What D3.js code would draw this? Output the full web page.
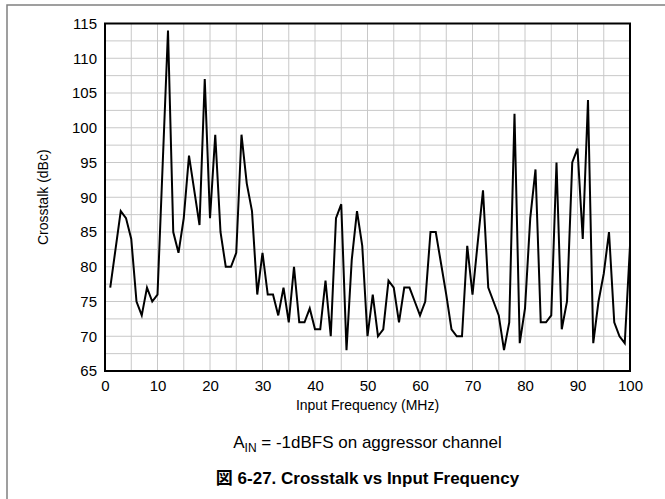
<!DOCTYPE html>
<html>
<head>
<meta charset="utf-8">
<script src="https://cdn.jsdelivr.net/npm/d3@7"></script>
<style>
  body { margin: 0; background: #fff; }
  svg { display: block; font-family: "Liberation Sans", Arial, sans-serif; }
</style>
</head>
<body>
<svg width="665" height="499"></svg>
<script>
// frequency (MHz) and crosstalk (dBc)
let freqs = d3.range(1, 101);
let crosstalk = [
  77, 82.5, 88, 87, 84, 75, 73, 77, 75, 76,
  95, 114, 85, 82, 87, 96, 91, 86, 107, 87,
  99, 85, 80, 80, 82, 99, 92, 88, 76, 82,
  76, 76, 73, 77, 72, 80, 72, 72, 74, 71,
  71, 78, 70, 87, 89, 68, 81, 88, 83, 70,
  76, 70, 71, 78, 77, 72, 77, 77, 75, 73,
  75, 85, 85, 80.5, 76, 71, 70, 70, 83, 76,
  83.5, 91, 77, 75, 73, 68, 72, 102, 69, 74,
  87, 94, 72, 72, 73, 95, 71, 75, 95, 97,
  84, 104, 69, 75, 79, 85, 72, 70, 69, 83
];
let xTicks = [0, 10, 20, 30, 40, 50, 60, 70, 80, 90, 100];
let yTicks = [65, 70, 75, 80, 85, 90, 95, 100, 105, 110, 115];

let svg = d3.select("svg");
let pLeft = 105, pRight = 630, pTop = 23.5, pBottom = 371;

let x = d3.scaleLinear().domain([0, 100]).range([pLeft, pRight]);
let y = d3.scaleLinear().domain([65, 115]).range([pBottom, pTop]);

// outer page frame (top and left edges)
svg.append("path")
  .attr("d", "M7,499 V5 H665")
  .attr("fill", "none")
  .attr("stroke", "#808080")
  .attr("stroke-width", 1.5);

// grid
let grid = svg.append("g");
grid.selectAll("line.v")
  .data(d3.range(5, 100, 5))
  .enter().append("line")
  .attr("class", "v")
  .attr("x1", d => x(d)).attr("x2", d => x(d))
  .attr("y1", pTop).attr("y2", pBottom)
  .attr("stroke", "#c8c8c8").attr("stroke-width", 1);
grid.selectAll("line.h")
  .data(d3.range(67.5, 115, 2.5))
  .enter().append("line")
  .attr("class", "h")
  .attr("x1", pLeft).attr("x2", pRight)
  .attr("y1", d => y(d)).attr("y2", d => y(d))
  .attr("stroke", "#c8c8c8").attr("stroke-width", 1);

// axes
let xAxis = svg.append("g")
  .attr("transform", `translate(0,${pBottom})`)
  .call(d3.axisBottom(x).tickValues(xTicks).tickSize(0).tickPadding(9));
let yAxis = svg.append("g")
  .attr("transform", `translate(${pLeft},0)`)
  .call(d3.axisLeft(y).tickValues(yTicks).tickSize(0).tickPadding(8));
[xAxis, yAxis].forEach(a => {
  a.select(".domain").remove();
  a.selectAll("text")
    .attr("font-size", 15)
    .attr("font-family", "Liberation Sans, Arial, sans-serif")
    .attr("fill", "#000");
});

// data line
let line = d3.line().x((d, i) => x(freqs[i])).y(d => y(d));
svg.append("path")
  .datum(crosstalk)
  .attr("d", line)
  .attr("fill", "none")
  .attr("stroke", "#000")
  .attr("stroke-width", 2)
  .attr("stroke-linejoin", "miter");

// plot frame
svg.append("rect")
  .attr("x", pLeft).attr("y", pTop)
  .attr("width", pRight - pLeft).attr("height", pBottom - pTop)
  .attr("fill", "none")
  .attr("stroke", "#000")
  .attr("stroke-width", 2);

// titles
svg.append("text")
  .attr("x", (pLeft + pRight) / 2).attr("y", 410)
  .attr("text-anchor", "middle")
  .attr("font-size", 14)
  .text("Input Frequency (MHz)");

svg.append("text")
  .attr("transform", `translate(48,${(pTop + pBottom) / 2}) rotate(-90)`)
  .attr("text-anchor", "middle")
  .attr("font-size", 14)
  .text("Crosstalk (dBc)");

let note = svg.append("text")
  .attr("x", (pLeft + pRight) / 2).attr("y", 448)
  .attr("text-anchor", "middle")
  .attr("font-size", 17);
note.append("tspan").text("A");
note.append("tspan").attr("font-size", 12).attr("dy", 4).text("IN");
note.append("tspan").attr("dy", -4).text(" = -1dBFS on aggressor channel");

svg.append("text")
  .attr("x", (pLeft + pRight) / 2).attr("y", 484)
  .attr("text-anchor", "middle")
  .attr("font-size", 17)
  .attr("font-weight", "bold")
  .attr("font-family", "Liberation Sans, 'Noto Sans CJK JP', sans-serif")
  .text("図 6-27. Crosstalk vs Input Frequency");
</script>
</body>
</html>
